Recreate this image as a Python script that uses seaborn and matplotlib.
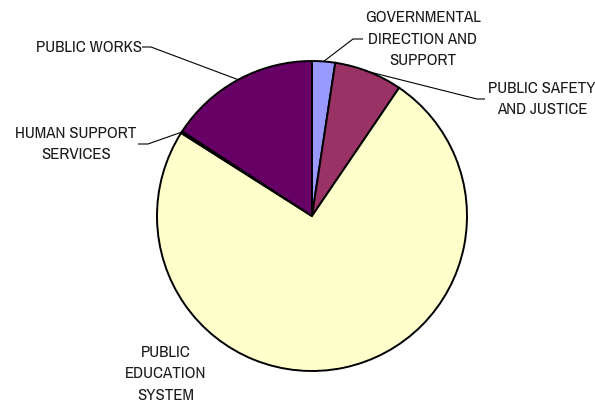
import numpy as np
import matplotlib
matplotlib.use("Agg")
import matplotlib.pyplot as plt
import seaborn as sns

# Budget share by program area (percent)
categories = [
    "GOVERNMENTAL\nDIRECTION AND\nSUPPORT",
    "PUBLIC SAFETY\nAND JUSTICE",
    "PUBLIC\nEDUCATION\nSYSTEM",
    "HUMAN SUPPORT\nSERVICES",
    "PUBLIC WORKS",
]
shares = [2.4, 7.1, 74.5, 0.2, 15.8]
slice_colors = ["#9999FF", "#993366", "#FFFFCC", "#CCFFFF", "#660066"]

sns.set_theme(style="white")
plt.rcParams["font.family"] = ["Archivo Narrow", "Roboto Condensed", "DejaVu Sans"]

W, H = 595, 405
fig = plt.figure(figsize=(W / 100, H / 100), dpi=100)
ax = fig.add_axes([0, 0, 1, 1])

cx, cy, r = 312, H - 216, 155
palette = sns.color_palette(slice_colors)
wedges, _ = ax.pie(
    shares,
    colors=palette,
    startangle=90,
    counterclock=False,
    center=(cx, cy),
    radius=r,
    wedgeprops=dict(edgecolor="black", linewidth=1.4),
)
ax.set_xlim(0, W)
ax.set_ylim(0, H)
ax.set_aspect("equal")
ax.axis("off")

# label placement: text centre, elbow point and line end near the text (pixels from top-left)
label_layout = [
    dict(xy=(423, 39), elbow=(353, 39), end=(363, 39), leader=True),
    dict(xy=(542, 99), elbow=(477, 99), end=(485, 99), leader=True),
    dict(xy=(166, 374), leader=False),
    dict(xy=(76, 144), elbow=(148, 144), end=(138, 144), leader=True),
    dict(xy=(89, 47), elbow=(151, 47), end=(142, 47), leader=True),
]

fs = 12.2
for w, name, lay in zip(wedges, categories, label_layout):
    tx, ty = lay["xy"]
    ax.text(tx, H - ty, name, ha="center", va="center", fontsize=fs,
            color="#1a1a1a", linespacing=1.55)
    if lay["leader"]:
        mid = np.deg2rad((w.theta1 + w.theta2) / 2)
        px, py = cx + r * np.cos(mid), cy + r * np.sin(mid)
        ex, ey = lay["elbow"]
        qx, qy = lay["end"]
        ax.plot([px, ex, qx], [py, H - ey, H - qy], color="black", lw=0.8,
                solid_capstyle="butt", zorder=0.5)

fig.savefig("out.png", dpi=100, facecolor="white")
